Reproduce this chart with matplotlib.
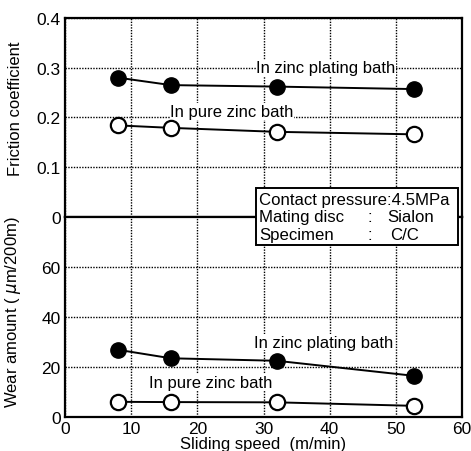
import matplotlib.pyplot as plt
from matplotlib.patches import Rectangle

plt.rcParams['font.family'] = ['Liberation Sans', 'DejaVu Sans']

speed = [8, 16, 32, 52.7]
fric_plating = [0.280, 0.265, 0.262, 0.257]
fric_pure = [0.184, 0.179, 0.171, 0.166]
wear_plating = [26.9, 23.5, 22.5, 16.5]
wear_pure = [6.1, 6.0, 5.9, 4.5]

fig = plt.figure(figsize=(4.71, 4.52), dpi=100)
ax1 = fig.add_axes([0.138, 0.518, 0.843, 0.44])
ax2 = fig.add_axes([0.138, 0.075, 0.843, 0.443], sharex=ax1)

grid_kw = dict(color='black', linestyle=(0, (1.0, 1.0)), linewidth=1.0)
fs = 12

for ax in (ax1, ax2):
    ax.set_xlim(0, 60)
    ax.set_xticks([0, 10, 20, 30, 40, 50, 60])
    ax.grid(True, **grid_kw)
    ax.set_axisbelow(True)
    ax.tick_params(length=0, labelsize=12.5, pad=3)
    for s in ax.spines.values():
        s.set_linewidth(1.6)

# friction
ax1.set_ylim(0, 0.4)
ax1.set_yticks([0, 0.1, 0.2, 0.3, 0.4])
ax1.set_yticklabels(['0', '0.1', '0.2', '0.3', '0.4'])
ax1.tick_params(labelbottom=False)
ax1.plot(speed, fric_plating, '-o', color='black', lw=1.4, ms=11,
         mfc='black', mec='black', zorder=3)
ax1.plot(speed, fric_pure, '-o', color='black', lw=1.4, ms=11,
         mfc='white', mec='black', mew=1.6, zorder=3)
ax1.text(28.9, 0.300, 'In zinc plating bath', fontsize=fs, va='center',
         bbox=dict(fc='white', ec='none', pad=0.5), zorder=2)
ax1.text(15.9, 0.212, 'In pure zinc bath', fontsize=fs, va='center',
         bbox=dict(fc='white', ec='none', pad=0.5), zorder=2)
ax1.set_ylabel('Friction coefficient', fontsize=fs, labelpad=7)
ax1.yaxis.set_label_coords(-0.107, 0.55)

# wear
ax2.set_ylim(0, 80)
ax2.set_yticks([0, 20, 40, 60])
ax2.plot(speed, wear_plating, '-o', color='black', lw=1.4, ms=11,
         mfc='black', mec='black', zorder=3)
ax2.plot(speed, wear_pure, '-o', color='black', lw=1.4, ms=11,
         mfc='white', mec='black', mew=1.6, zorder=3)
ax2.text(28.6, 30, 'In zinc plating bath', fontsize=fs, va='center',
         bbox=dict(fc='white', ec='none', pad=0.5), zorder=2)
ax2.text(12.7, 14, 'In pure zinc bath', fontsize=fs, va='center',
         bbox=dict(fc='white', ec='none', pad=0.5), zorder=2)
ax2.set_ylabel('Wear amount ( $\\mu$m/200m)', fontsize=fs)
ax2.yaxis.set_label_coords(-0.107, 0.53)
ax2.set_xlabel('Sliding speed  (m/min)', fontsize=fs, labelpad=0)

# condition box spanning both panels
fig.patches.append(Rectangle((0.5435, 0.4558), 0.429, 0.1261,
                             transform=fig.transFigure, fc='white',
                             ec='black', lw=1.4, zorder=10))
bfs = 12.1
rows = [(0.5575, 'Contact pressure:4.5MPa', None, None),
        (0.5177, 'Mating disc', ':', 'Sialon'),
        (0.4779, 'Specimen', ':', 'C/C')]
for y, left, colon, right in rows:
    fig.text(0.550, y, left, fontsize=bfs, va='center', zorder=11)
    if colon:
        fig.text(0.7856, y, colon, fontsize=bfs, va='center', ha='center', zorder=11)
    if right:
        fig.text(0.8217 if right == 'Sialon' else 0.828, y, right,
                 fontsize=bfs, va='center', zorder=11)

fig.savefig('out.png', dpi=100)
